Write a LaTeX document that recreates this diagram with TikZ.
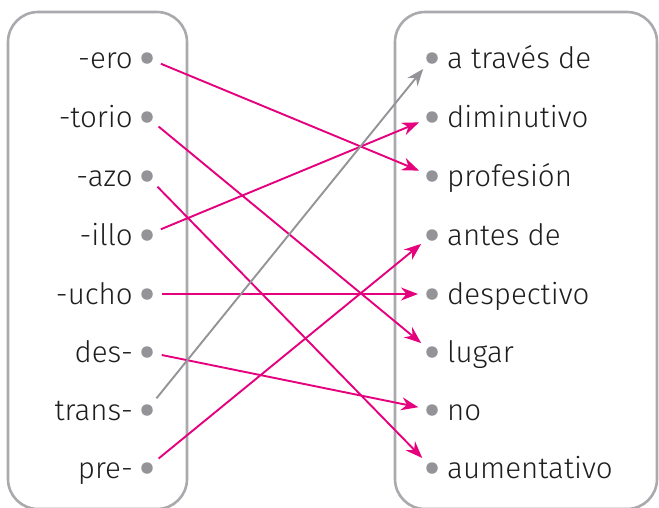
\documentclass[tikz,border=0pt]{standalone}
\usepackage{fontspec}
\setmainfont{Fira Sans}[UprightFont=* Light]
\usetikzlibrary{arrows.meta}
\definecolor{mag}{HTML}{E5007D}
\definecolor{boxgray}{HTML}{A9A9AE}
\definecolor{dotgray}{HTML}{939398}
\definecolor{txt}{HTML}{1E1E1E}
\tikzset{
  panel/.style={draw=boxgray, line width=2.6pt, rounded corners=30pt},
  dotnode/.style={circle, fill=dotgray, inner sep=0pt, minimum size=11.5pt},
  llabel/.style={anchor=base east, inner sep=0pt, font=\fontsize{29.5}{32}\selectfont, text=txt},
  rlabel/.style={anchor=base west, inner sep=0pt, font=\fontsize{29.5}{32}\selectfont, text=txt},
  link/.style={draw=mag, line width=1.9pt, -{Stealth[length=17pt,width=13pt]}, shorten <=15pt, shorten >=14pt},
  glink/.style={link, draw=dotgray, -{Stealth[length=17pt,width=13pt,fill=dotgray]}}
}
\begin{document}
\begin{tikzpicture}[x=1pt,y=-1pt]
\useasboundingbox (0,0) rectangle (659,507);
\clip (0,0) rectangle (659,507);
\draw[panel] (8,12) rectangle (187,509);
\draw[panel] (395,12) rectangle (657,509);
% left items
\foreach \i/\t/\y in {1/-ero/58,2/-torio/117,3/-azo/176,4/-illo/235,5/-ucho/294,6/des-/352,7/trans-/410,8/pre-/468}{
  \node[dotnode] (l\i) at (147,\y) {};
  \node[llabel] (lt\i) at (133,\y+10) {\t};
}
% right items
\foreach \i/\t/\y in {1/a través de/58,2/diminutivo/117,3/profesión/176,4/antes de/235,5/despectivo/294,6/lugar/352,7/no/410,8/aumentativo/468}{
  \node[dotnode] (r\i) at (432,\y) {};
  \node[rlabel] (rt\i) at (447,\y+10) {\t};
}
\draw[link] (l1.center) -- (r3.center);
\draw[link] (l2.center) -- (r6.center);
\draw[link] (l3.center) -- (r8.center);
\draw[link] (l4.center) -- (r2.center);
\draw[link] (l5.center) -- (r5.center);
\draw[link] (l6.center) -- (r7.center);
\draw[glink] (l7.center) -- (r1.center);
\draw[link] (l8.center) -- (r4.center);
\end{tikzpicture}
\end{document}
